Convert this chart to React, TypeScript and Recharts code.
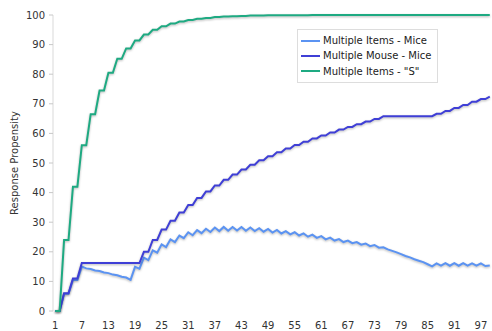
import React from "react";
import {
  LineChart,
  Line,
  XAxis,
  YAxis,
  Legend,
} from "recharts";

// trial number 1..99
const trials = [
  1, 2, 3, 4, 5, 6, 7, 8, 9, 10, 11, 12, 13, 14, 15, 16, 17, 18, 19, 20,
  21, 22, 23, 24, 25, 26, 27, 28, 29, 30, 31, 32, 33, 34, 35, 36, 37, 38, 39, 40,
  41, 42, 43, 44, 45, 46, 47, 48, 49, 50, 51, 52, 53, 54, 55, 56, 57, 58, 59, 60,
  61, 62, 63, 64, 65, 66, 67, 68, 69, 70, 71, 72, 73, 74, 75, 76, 77, 78, 79, 80,
  81, 82, 83, 84, 85, 86, 87, 88, 89, 90, 91, 92, 93, 94, 95, 96, 97, 98, 99,
];

const itemsMice = [
  0, 0, 5.8, 5.8, 10.5, 10.5, 15.0, 14.4, 14.2, 13.7, 13.5, 13.0, 12.8, 12.3, 12.1, 11.6, 11.3, 10.5, 14.9, 14.3,
  18.0, 17.2, 20.5, 19.7, 22.5, 21.6, 24.2, 23.3, 25.5, 24.6, 26.6, 25.6, 27.3, 26.3, 27.8, 26.7, 28.2, 27.0, 28.4, 27.1,
  28.4, 27.2, 28.4, 27.1, 28.2, 27.0, 28.0, 26.8, 27.7, 26.5, 27.4, 26.2, 27.0, 25.9, 26.6, 25.5, 26.2, 25.1, 25.8, 24.7,
  25.3, 24.2, 24.8, 23.8, 24.3, 23.3, 23.8, 22.9, 23.3, 22.4, 22.8, 21.9, 22.3, 21.4, 21.5, 20.8, 20.3, 19.8, 19.2, 18.6,
  18.1, 17.5, 17.0, 16.5, 15.8, 15.1, 16.1, 15.3, 16.2, 15.3, 16.2, 15.3, 16.2, 15.3, 16.1, 15.3, 16.1, 15.2, 15.4,
];

const mouseMice = [
  0, 0, 6, 6, 11, 11, 16.2, 16.2, 16.2, 16.2, 16.2, 16.2, 16.2, 16.2, 16.2, 16.2, 16.2, 16.2, 16.2, 16.2,
  20, 20, 24, 24, 27.5, 27.5, 30.5, 30.5, 33.3, 33.3, 35.8, 35.8, 38.2, 38.2, 40.4, 40.4, 42.4, 42.4, 44.3, 44.3,
  46.1, 46.1, 47.8, 47.8, 49.4, 49.4, 50.9, 50.9, 52.3, 52.3, 53.6, 53.6, 54.9, 54.9, 56.1, 56.1, 57.2, 57.2, 58.3, 58.3,
  59.3, 59.3, 60.3, 60.3, 61.3, 61.3, 62.2, 62.2, 63.1, 63.1, 64.0, 64.0, 64.9, 64.9, 65.8, 65.8, 65.8, 65.8, 65.8, 65.8,
  65.8, 65.8, 65.8, 65.8, 65.8, 65.8, 66.6, 66.6, 67.6, 67.6, 68.6, 68.6, 69.6, 69.6, 70.7, 70.7, 71.6, 71.6, 72.4,
];

const itemsS = [
  0, 0, 24, 24, 42, 42, 56, 56, 66.5, 66.5, 74.5, 74.5, 80.5, 80.5, 85.2, 85.2, 88.7, 88.7, 91.4, 91.4,
  93.4, 93.4, 95.0, 95.0, 96.2, 96.2, 97.1, 97.1, 97.8, 97.8, 98.3, 98.3, 98.7, 98.7, 99.0, 99.0, 99.3, 99.3, 99.5, 99.5,
  99.6, 99.6, 99.7, 99.7, 99.8, 99.8, 99.85, 99.85, 99.9, 99.9, 99.9, 99.9, 99.95, 99.95, 99.95, 99.95, 99.95, 99.95, 100, 100,
  100, 100, 100, 100, 100, 100, 100, 100, 100, 100, 100, 100, 100, 100, 100, 100, 100, 100, 100, 100,
  100, 100, 100, 100, 100, 100, 100, 100, 100, 100, 100, 100, 100, 100, 100, 100, 100, 100, 100,
];

const xTickLabels = [1, 7, 13, 19, 25, 31, 37, 43, 49, 55, 61, 67, 73, 79, 85, 91, 97];
const yTicks = [0, 10, 20, 30, 40, 50, 60, 70, 80, 90, 100];

const seriesNames = ["Multiple Items - Mice", "Multiple Mouse - Mice", 'Multiple Items - "S"'];
const colors = ["#5b93f2", "#3f3fd6", "#1eaa82"];

const data = trials.map((t, i) => ({
  trial: t,
  itemsMice: itemsMice[i],
  mouseMice: mouseMice[i],
  itemsS: itemsS[i],
}));

// minor ticks sit between categories, like the original category axis
const minorTicks = [0.5, ...trials.map((t) => t + 0.5)];

const FONT = "'DejaVu Sans', Verdana, sans-serif";

const LegendBox = () => (
  <div
    style={{
      background: "#fff",
      border: "1px solid #ddd",
      padding: "3px 6px 3px 3px",
      fontFamily: FONT,
      fontSize: 10,
      color: "#222",
    }}
  >
    {seriesNames.map((name, i) => (
      <div
        key={name}
        style={{ display: "flex", alignItems: "center", height: 15.3 }}
      >
        <span
          style={{
            display: "inline-block",
            width: 19,
            height: 2,
            background: colors[i],
            marginRight: 3,
          }}
        />
        <span>{name}</span>
      </div>
    ))}
  </div>
);

export default function App() {
  return (
    <div style={{ position: "absolute", left: 0, top: 0, background: "#fff" }}>
      <style>{`.recharts-line-curve { filter: drop-shadow(0px 1px 1px rgba(0,0,0,0.28)); }`}</style>
      <LineChart
        width={492}
        height={331}
        data={data}
        margin={{ top: 15, right: 0, left: 0, bottom: 0 }}
      >
        <XAxis
          xAxisId="minor"
          dataKey="trial"
          type="number"
          domain={[0.5, 99.5]}
          ticks={minorTicks}
          interval={0}
          height={0}
          tickFormatter={() => ""}
          tickSize={4}
          tickLine={{ stroke: "#c8c8c8" }}
          axisLine={{ stroke: "#d9d9d9" }}
          allowDataOverflow
        />
        <XAxis
          xAxisId="main"
          dataKey="trial"
          type="number"
          domain={[0.5, 99.5]}
          ticks={xTickLabels}
          interval={0}
          height={20}
          tickLine={false}
          axisLine={false}
          tickMargin={5}
          tick={{ fill: "#333", fontSize: 10, fontFamily: FONT }}
          allowDataOverflow
        />
        <YAxis
          width={53}
          domain={[0, 100]}
          ticks={yTicks}
          interval={0}
          tickSize={4}
          tickMargin={4}
          tickLine={{ stroke: "#c8c8c8" }}
          axisLine={{ stroke: "#d9d9d9" }}
          tick={{ fill: "#333", fontSize: 10, fontFamily: FONT }}
          label={{
            value: "Response Propensity",
            angle: -90,
            position: "insideLeft",
            offset: 14,
            style: { textAnchor: "middle", fill: "#333", fontSize: 10, fontFamily: FONT },
          }}
        />
        <Legend
          layout="vertical"
          align="center"
          verticalAlign="middle"
          content={<LegendBox />}
          wrapperStyle={{ top: 29, left: 297, width: "auto" }}
        />
        <Line
          xAxisId="main"
          type="linear"
          dataKey="itemsMice"
          name={seriesNames[0]}
          stroke={colors[0]}
          strokeWidth={2}
          dot={false}
          isAnimationActive={false}
        />
        <Line
          xAxisId="main"
          type="linear"
          dataKey="mouseMice"
          name={seriesNames[1]}
          stroke={colors[1]}
          strokeWidth={2}
          dot={false}
          isAnimationActive={false}
        />
        <Line
          xAxisId="main"
          type="linear"
          dataKey="itemsS"
          name={seriesNames[2]}
          stroke={colors[2]}
          strokeWidth={2}
          dot={false}
          isAnimationActive={false}
        />
      </LineChart>
    </div>
  );
}
